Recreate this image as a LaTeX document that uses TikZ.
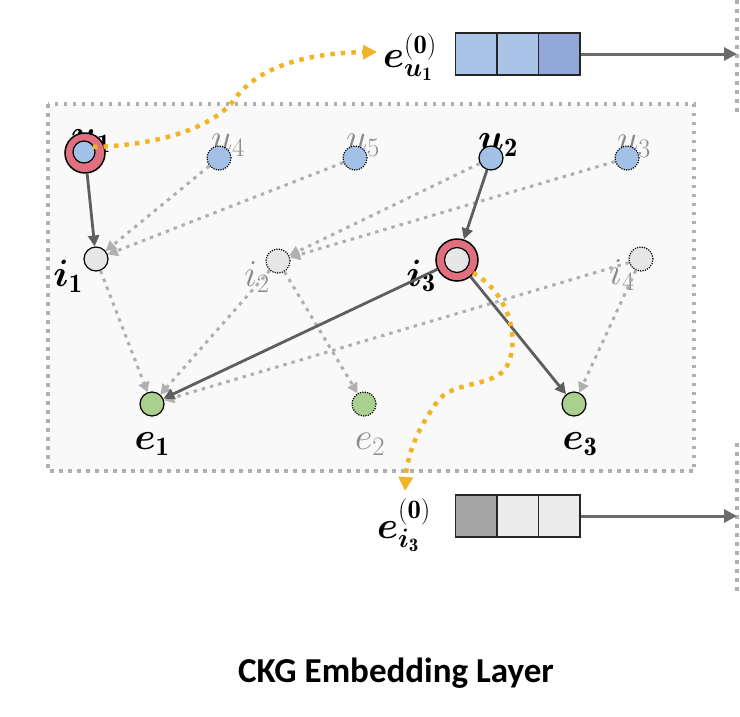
\RequirePackage{fix-cm}
\documentclass[tikz,border=0pt]{standalone}
\usepackage{amsmath}
\usepackage{bm}
\usepackage{fontspec}
\newfontfamily\capfont{Carlito}
\usetikzlibrary{arrows.meta}
\definecolor{ublue}{HTML}{A3C1E7}
\definecolor{ired}{HTML}{E0707F}
\definecolor{igray}{HTML}{E6E6E6}
\definecolor{egreen}{HTML}{A9D08E}
\definecolor{ylw}{HTML}{F2B424}
\definecolor{dgray}{HTML}{5E5E5E}
\definecolor{lgray}{HTML}{B0B0B0}
\definecolor{lblgray}{HTML}{8A8A8A}
\definecolor{boxfill}{HTML}{F9F9F9}
\definecolor{vblue}{HTML}{A9C4E6}
\definecolor{vblue2}{HTML}{92A8D8}
\definecolor{vgray}{HTML}{A5A5A5}
\definecolor{vlight}{HTML}{EBEBEB}
\begin{document}
\begin{tikzpicture}[x=1pt,y=-1pt,
  lbl/.style={inner sep=0pt,font=\fontsize{38}{44}\selectfont},
  glbl/.style={lbl,text=lblgray},
  circ/.style={circle,inner sep=0pt,minimum size=24pt,draw=black,line width=1.2pt},
  dcirc/.style={circ,dash pattern=on 1.2pt off 1.2pt},
  ring/.style={circle,inner sep=0pt,draw=black,line width=1.5pt,fill=ired},
  solidE/.style={draw=dgray,line width=2.8pt,-{Triangle[length=11pt,width=11pt]}},
  dotE/.style={draw=lgray,line width=3pt,dash pattern=on 3.5pt off 5pt,-{Triangle[length=10pt,width=11pt]}},
  ylwE/.style={draw=ylw,line width=4.5pt,dash pattern=on 4.5pt off 6pt,-{Triangle[length=14pt,width=14pt]}},
  boxline/.style={draw=lgray,line width=3.5pt,dash pattern=on 3.5pt off 5.5pt},
  cell/.style={rectangle,inner sep=0pt,minimum width=41.5pt,minimum height=42pt,draw=black!85,line width=1.5pt},
  vecA/.style={draw=black!58,line width=3pt,-{Triangle[length=13pt,width=13pt]}}
]
\useasboundingbox (0,0) rectangle (740,716);
% main box and side lines
\draw[boxline,fill=boxfill] (48,104) rectangle (694,471);
\draw[boxline] (737,0) -- (737,117);
\draw[boxline] (737,443) -- (737,593);

% labels (behind circles)
\node[lbl] (lu1) at (91,141) {$\bm{u}_{\mathbf 1}$};
\node[glbl] (lu4) at (228,145) {$u_4$};
\node[glbl] (lu5) at (363,145) {$u_5$};
\node[lbl] (lu2) at (498,145) {$\bm{u}_{\mathbf 2}$};
\node[glbl] (lu3) at (634,146) {$u_3$};
\node[lbl] (li1) at (68,276) {$\bm{i}_{\mathbf 1}$};
\node[glbl] (li2) at (257,277) {$i_2$};
\node[lbl] (li3) at (421,276) {$\bm{i}_{\mathbf 3}$};
\node[glbl] (li4) at (622,275) {$i_4$};
\node[lbl] (le1) at (152,444) {$\bm{e}_{\mathbf 1}$};
\node[glbl] (le2) at (370,444) {$e_2$};
\node[lbl] (le3) at (580,444) {$\bm{e}_{\mathbf 3}$};

% nodes
\node[ring,minimum size=40pt] (u1r) at (85,153) {};
\node[circ,fill=ublue,minimum size=22pt] (u1) at (84,152) {};
\node[dcirc,fill=ublue] (u4) at (219,158) {};
\node[dcirc,fill=ublue] (u5) at (355,158) {};
\node[circ,fill=ublue] (u2) at (491,158) {};
\node[dcirc,fill=ublue] (u3) at (627,158) {};
\node[circ,fill=igray] (i1) at (96,259) {};
\node[dcirc,fill=igray] (i2) at (278,261) {};
\node[ring,minimum size=42pt] (i3r) at (457,260) {};
\node[circ,fill=igray,minimum size=25pt] (i3) at (457,260) {};
\node[dcirc,fill=igray] (i4) at (641,259) {};
\node[circ,fill=egreen] (e1) at (152,404) {};
\node[dcirc,fill=egreen] (e2) at (364,404) {};
\node[circ,fill=egreen] (e3) at (574,404) {};

% dotted edges
\draw[dotE] (u4) -- (i1);
\draw[dotE] (u5) -- (i1);
\draw[dotE] (u2) -- (i2);
\draw[dotE] (u3) -- (i2);
\draw[dotE] (i1) -- (e1);
\draw[dotE] (i2) -- (e1);
\draw[dotE] (i2) -- (e2);
\draw[dotE] (i4) -- (e1);
\draw[dotE] (i4) -- (e3);
% solid edges
\draw[solidE] (u1r) -- (i1);
\draw[solidE] (u2) -- (i3r);
\draw[solidE] (i3r) -- (e1);
\draw[solidE] (i3r) -- (e3);

% embedding vectors
\node[lbl] (eu) at (410,57) {$\bm{e}^{(\mathbf{0})}_{\bm{u}_{\mathbf 1}}$};
\node[cell,fill=vblue] (a1) at (476,54) {};
\node[cell,fill=vblue] (a2) at (517.5,54) {};
\node[cell,fill=vblue2] (a3) at (559,54) {};
\coordinate (ta) at (737,54);
\draw[vecA] (a3.east) -- (ta);

\node[lbl] (ei) at (404,525) {$\bm{e}^{(\mathbf{0})}_{\bm{i}_{\mathbf 3}}$};
\node[cell,fill=vgray] (b1) at (476,516) {};
\node[cell,fill=vlight] (b2) at (517.5,516) {};
\node[cell,fill=vlight] (b3) at (559,516) {};
\coordinate (tb) at (737,516);
\draw[vecA] (b3.east) -- (tb);

% yellow paths
\coordinate (y1s) at (93,147);
\coordinate (y1e) at (377,52);
\draw[ylwE] (y1s) .. controls (165,145) and (215,125) .. (234,100)
  .. controls (255,70) and (300,53) .. (y1e);
\coordinate (y2s) at (473,273);
\coordinate (y2e) at (405,491);
\draw[ylwE] (y2s) .. controls (505,290) and (522,335) .. (507,366)
  .. controls (495,388) and (452,380) .. (437,402)
  .. controls (418,428) and (407,455) .. (y2e);

% caption
\node[font=\capfont\bfseries\fontsize{35}{40}\selectfont] (cap) at (396,673) {CKG Embedding Layer};
\end{tikzpicture}
\end{document}
